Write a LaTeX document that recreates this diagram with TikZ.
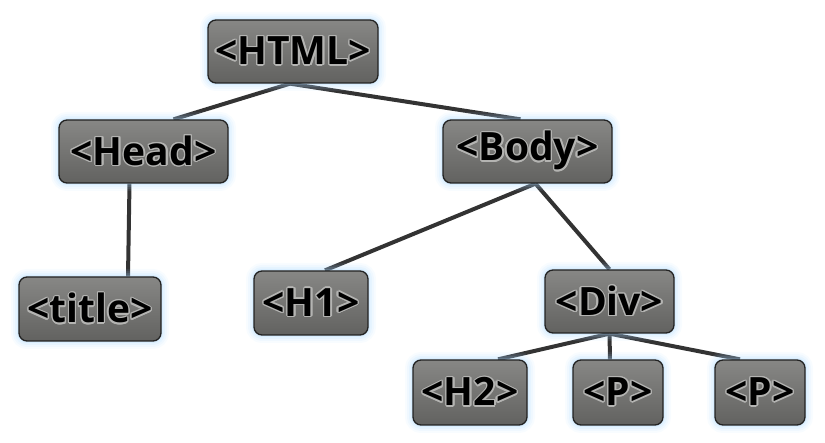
\documentclass[tikz,border=0pt]{standalone}
\usepackage{fontspec}
\newfontfamily\tagfont{Open Sans}[UprightFont={* Bold}]
\usepackage[copies]{contour}
\contourlength{1.3pt}
\contournumber{16}
\usetikzlibrary{backgrounds}
\definecolor{boxtop}{HTML}{878785}
\definecolor{boxbot}{HTML}{626260}
\definecolor{boxline}{HTML}{222222}
\definecolor{edgec}{HTML}{333333}
\definecolor{glowc}{HTML}{A8D8FF}
\definecolor{halo}{HTML}{B4B4B2}
\tikzset{
  x=1pt, y=-1pt,
  tag/.style={rounded corners=8pt, draw=boxline, line width=1.3pt,
    top color=boxtop, bottom color=boxbot, inner sep=0pt,
    minimum height=63pt, text=black,
    font=\tagfont\fontsize{39}{42}\selectfont,
    preaction={draw=glowc, line width=16pt, opacity=0.08},
    preaction={draw=glowc, line width=12pt, opacity=0.10},
    preaction={draw=glowc, line width=8pt, opacity=0.14},
    preaction={draw=glowc, line width=4pt, opacity=0.2}},
  edge/.style={draw=edgec, line width=4pt}
}
\newcommand{\tg}[1]{\contour{halo}{#1}}
\begin{document}
\begin{tikzpicture}
\useasboundingbox (0,0) rectangle (825,443);
\node[tag, minimum width=170pt] (html) at (293,51.5) {\tg{<HTML>}};
\node[tag, minimum width=169pt] (head) at (143.5,151.5) {\tg{<Head>}};
\node[tag, minimum width=169pt] (body) at (527.5,151.5) {\tg{<Body>}};
\node[tag, minimum width=142pt, minimum height=64pt] (title) at (90,309) {\tg{<title>}};
\node[tag, minimum width=114pt, minimum height=64pt] (h1) at (311,303) {\tg{<H1>}};
\node[tag, minimum width=129pt] (div) at (609.5,301.5) {\tg{<Div>}};
\node[tag, minimum width=114pt, minimum height=65pt] (h2) at (470,392.5) {\tg{<H2>}};
\node[tag, minimum width=90pt, minimum height=65pt] (p1) at (618,392.5) {\tg{<P>}};
\node[tag, minimum width=90pt, minimum height=65pt] (p2) at (760,392.5) {\tg{<P>}};
\begin{pgfonlayer}{background}
\draw[edge] ([xshift=-3pt]html.south) -- ([xshift=30pt]head.north);
\draw[edge] ([xshift=-3pt]html.south) -- ([xshift=-7pt]body.north);
\draw[edge] ([xshift=-14pt]head.south) -- ([xshift=38pt]title.north);
\draw[edge] ([xshift=8pt]body.south) -- ([xshift=14pt]h1.north);
\draw[edge] ([xshift=8pt]body.south) -- ([xshift=0pt]div.north);
\draw[edge] ([xshift=0pt]div.south) -- ([xshift=28pt]h2.north);
\draw[edge] ([xshift=0pt]div.south) -- ([xshift=-8pt]p1.north);
\draw[edge] ([xshift=0pt]div.south) -- ([xshift=-20pt]p2.north);
\end{pgfonlayer}
\end{tikzpicture}
\end{document}
